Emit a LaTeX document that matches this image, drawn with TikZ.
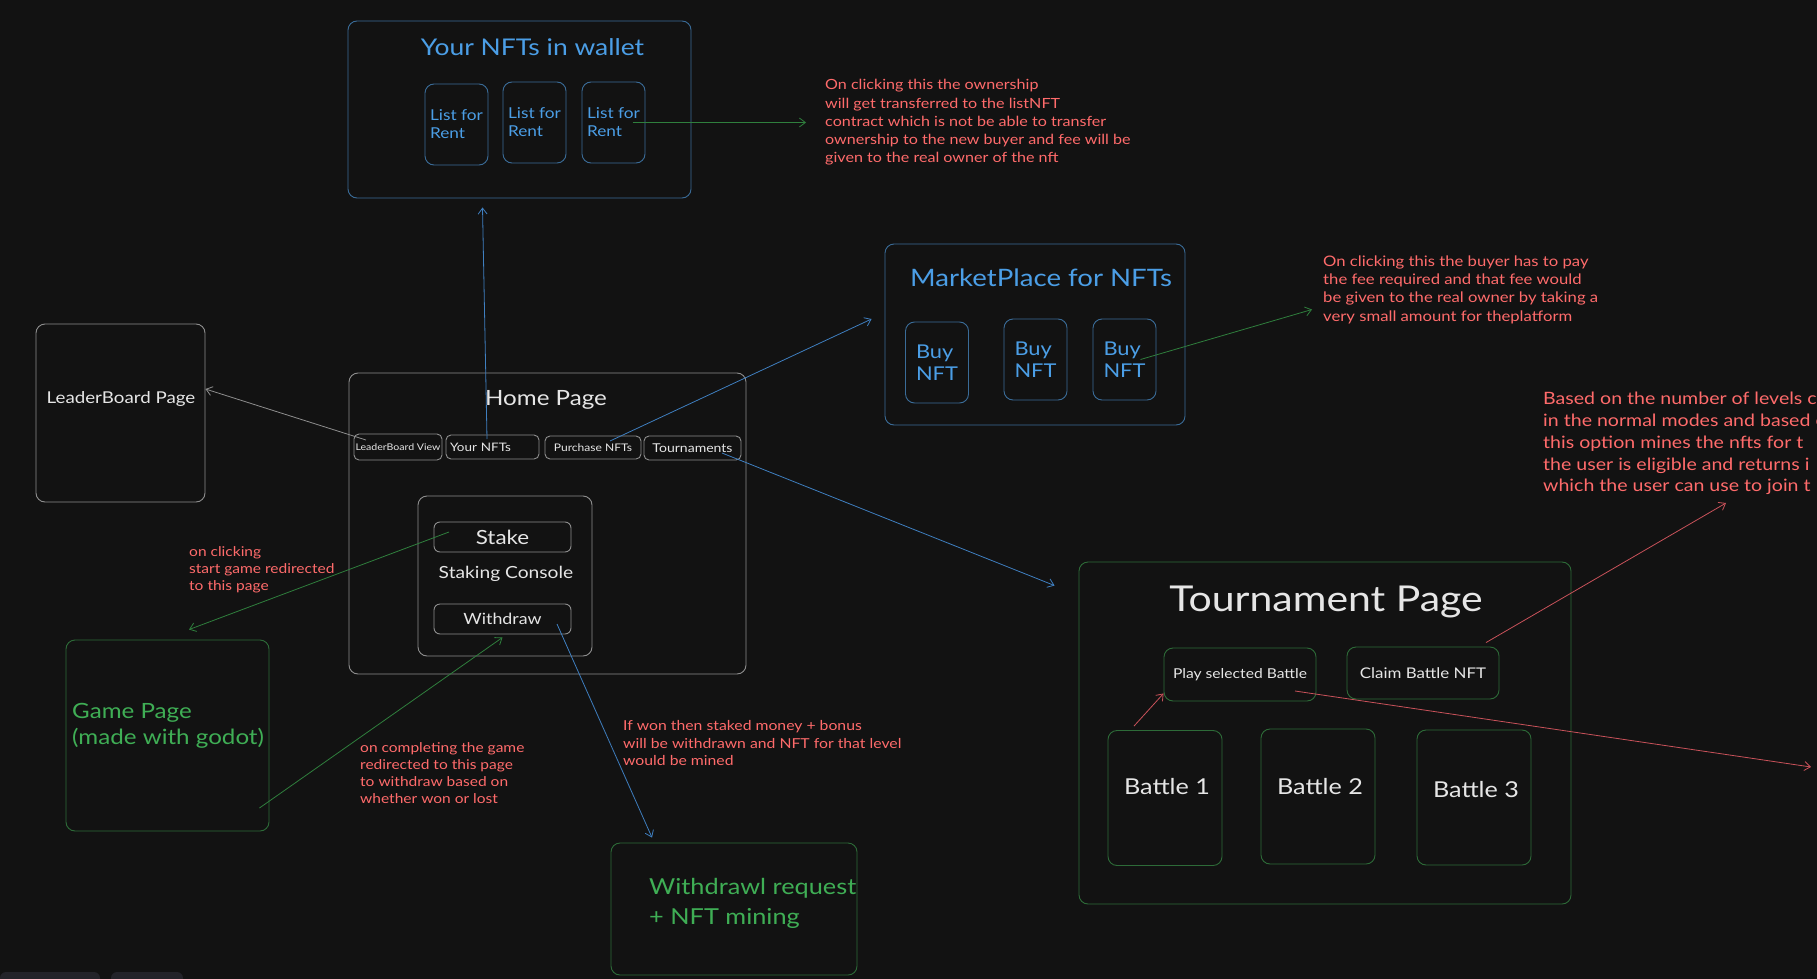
\documentclass[tikz,border=0pt]{standalone}
\usepackage{fontspec}
\setmainfont{Lato}[FakeStretch=1.15]
\usetikzlibrary{arrows.meta, calc, positioning}
\definecolor{bgdark}{HTML}{121212}
\definecolor{dockgray}{HTML}{232329}
\definecolor{lngray}{HTML}{8E8E8E}
\definecolor{txtwhite}{HTML}{E6E6E6}
\definecolor{lnblue}{HTML}{3A6C98}
\definecolor{arblue}{HTML}{3F7FC0}
\definecolor{txtblue}{HTML}{4B9EE6}
\definecolor{lngreen}{HTML}{2D6B38}
\definecolor{argreen}{HTML}{2F7F3D}
\definecolor{txtgreen}{HTML}{3FAE55}
\definecolor{notered}{HTML}{FF6B6B}
\definecolor{arred}{HTML}{C9525A}

\begin{document}
\begin{tikzpicture}[x=1pt, y=-1pt,
    >={Straight Barb[length=6pt,width=9pt]},
    box/.style={draw=#1, rounded corners=9pt, line width=0.9pt, inner sep=0pt},
    ttl/.style={text=#1, inner sep=0pt},
    note/.style={text=notered, align=left, anchor=west, inner sep=0pt, font=\fontsize{14}{18.3}\selectfont},
    link/.style={->, draw=#1, line width=0.8pt}]
    \fill[bgdark] (0,0) rectangle (1817,979);
    \useasboundingbox (0,0) rectangle (1817,979);
    \clip (0,0) rectangle (1817,979);
    \fill[dockgray, rounded corners=6pt] (0,972) rectangle (100,995);
    \fill[dockgray, rounded corners=6pt] (111,972) rectangle (183,995);

    % wallet
    \node[box=lnblue, minimum width=343pt, minimum height=177pt] (wallet) at (519.5,109.5) {};
    \node[ttl=txtblue, font=\fontsize{23}{27}\selectfont] (walletttl) at (532.5,47) {Your NFTs in wallet};
    \foreach \i/\x/\y in {1/456.5/124.5, 2/534.5/122.5, 3/613.5/122.5} {
        \node[box=lnblue, text=txtblue, minimum width=63pt, minimum height=81pt, align=left, font=\fontsize{15}{18}\selectfont] (w\i) at (\x,\y) {List for\\Rent};
    }
    \node[note] (note1) at (825,122.5) {On clicking this the ownership\\will get transferred to the listNFT\\contract which is not be able to transfer\\ownership to the new buyer and fee will be\\given to the real owner of the nft};

    % marketplace
    \node[box=lnblue, minimum width=300pt, minimum height=181pt] (market) at (1035,334.5) {};
    \node[ttl=txtblue, font=\fontsize{24}{28}\selectfont] (marketttl) at (1041,278) {MarketPlace for NFTs};
    \foreach \i/\x/\y in {1/937/362.5, 2/1035.5/359.5, 3/1124.5/359.5} {
        \node[box=lnblue, text=txtblue, minimum width=63pt, minimum height=81pt, align=left, font=\fontsize{19}{22}\selectfont] (b\i) at (\x,\y) {Buy\\NFT};
    }
    \node[note, font=\fontsize{14.5}{18.3}\selectfont] (note2) at (1323,289.5) {On clicking this the buyer has to pay\\the fee required and that fee would\\be given to the real owner by taking a\\very small amount for theplatform};
    \node[note, font=\fontsize{17}{21.8}\selectfont] (note3) at (1543,443.5) {Based on the number of levels c\\in the normal modes and based o\\this option mines the nfts for t\\the user is eligible and returns i\\which the user can use to join t};

    % leaderboard
    \node[box=lngray, minimum width=169pt, minimum height=178pt] (lb) at (120.5,413) {};
    \node[ttl=txtwhite, font=\fontsize{16.3}{20}\selectfont] (lbttl) at (121,399) {LeaderBoard Page};

    % home page
    \node[box=lngray, minimum width=397pt, minimum height=301pt] (home) at (547.5,523.5) {};
    \node[ttl=txtwhite, font=\fontsize{21}{25}\selectfont] (homettl) at (546,400) {Home Page};
    \node[box=lngray, rounded corners=5pt, text=txtwhite, minimum width=88pt, minimum height=26pt, font=\fontsize{9.2}{11}\selectfont] (lbv) at (398,447) {LeaderBoard View};
    \node[box=lngray, rounded corners=5pt, text=txtwhite, text width=85pt, inner sep=4pt, align=left, minimum height=24pt, font=\fontsize{11.7}{14}\selectfont] (ynft) at (492.5,447) {Your NFTs};
    \node[box=lngray, rounded corners=5pt, text=txtwhite, minimum width=96pt, minimum height=23pt, font=\fontsize{10.5}{13}\selectfont] (pnft) at (593,447.5) {Purchase NFTs};
    \node[box=lngray, rounded corners=5pt, text=txtwhite, minimum width=97pt, minimum height=24pt, font=\fontsize{12.2}{15}\selectfont] (tour) at (692.5,448) {Tournaments};

    \node[box=lngray, minimum width=174pt, minimum height=160pt] (staking) at (505,576) {};
    \node[ttl=txtwhite, font=\fontsize{16.7}{20}\selectfont] (stakingttl) at (506,574) {Staking Console};
    \node[box=lngray, rounded corners=6pt, text=txtwhite, minimum width=137pt, minimum height=30pt, font=\fontsize{19.5}{22}\selectfont] (stake) at (502.5,537) {Stake};
    \node[box=lngray, rounded corners=6pt, text=txtwhite, minimum width=137pt, minimum height=30pt, font=\fontsize{15.5}{18}\selectfont] (withdraw) at (502.5,619) {Withdraw};

    % game and withdrawal
    \node[box=lngreen, minimum width=203pt, minimum height=191pt] (game) at (167.5,735.5) {};
    \node[ttl=txtgreen, align=left, anchor=west, font=\fontsize{21}{26}\selectfont] (gamettl) at (72,726) {Game Page\\(made with godot)};
    \node[note, font=\fontsize{13.5}{17}\selectfont] (note4) at (189,570) {on clicking\\start game redirected\\to this page};
    \node[note, font=\fontsize{13.5}{17}\selectfont] (note5) at (360,773.5) {on completing the game\\redirected to this page\\to withdraw based on\\whether won or lost};

    \node[box=lngreen, minimum width=246pt, minimum height=132pt] (wdreq) at (734,909) {};
    \node[ttl=txtgreen, align=left, anchor=west, font=\fontsize{22}{30}\selectfont] (wdreqttl) at (649,903) {Withdrawl request\\+ NFT mining};
    \node[note, font=\fontsize{13.7}{17.5}\selectfont] (note6) at (623,743.5) {If won then staked money + bonus\\will be withdrawn and NFT for that level\\would be mined};

    % tournament
    \node[box=lngreen, minimum width=492pt, minimum height=342pt] (tpage) at (1325,733) {};
    \node[ttl=txtwhite, font=\fontsize{35.6}{40}\selectfont] (tpagettl) at (1326,602) {Tournament Page};
    \node[box=lngreen, text=txtwhite, minimum width=152pt, minimum height=53pt, font=\fontsize{13.6}{16}\selectfont] (play) at (1240,674.5) {Play selected Battle};
    \node[box=lngreen, text=txtwhite, minimum width=152pt, minimum height=52pt, font=\fontsize{14.7}{17}\selectfont] (claim) at (1423,673) {Claim Battle NFT};
    \foreach \i/\x/\y/\ty in {1/1165/798/-11, 2/1318/796.5/-9.5, 3/1474/797.5/-7.5} {
        \node[box=lngreen, minimum width=114pt, minimum height=135pt] (bt\i) at (\x,\y) {};
        \node[ttl=txtwhite, font=\fontsize{21.9}{25}\selectfont] (bt\i ttl) at ($(bt\i)+(2,\ty)$) {Battle \i};
    }
    \coordinate (offright) at (1811,767);

    % connectors
    \draw[link=argreen] ([xshift=19pt]w3.center) -- ([xshift=-19pt]note1.west);
    \draw[link=argreen] ([xshift=16pt]b3.center) -- ([shift={(-11pt,-20pt)}]note2.west);
    \draw[link=lngray] ([shift={(-32pt,7pt)}]lbv.center) -- ([yshift=24pt]lb.east);
    \draw[link=arblue] ([shift={(-5.5pt,8pt)}]ynft.center) -- ([shift={(-37pt,-9pt)}]wallet.south);
    \draw[link=arblue] ([shift={(17pt,6.5pt)}]pnft.center) -- ([shift={(-13pt,15.5pt)}]market.west);
    \draw[link=arblue] ([shift={(29.5pt,-5pt)}]tour.center) -- ([shift={(-24pt,-24pt)}]tpage.north west);
    \draw[link=argreen] ([shift={(-53.5pt,5pt)}]stake.center) -- ([shift={(21.5pt,10pt)}]game.north);
    \draw[link=argreen] ([shift={(-10pt,-72.5pt)}]game.east) -- ([yshift=-3pt]withdraw.south);
    \draw[link=arblue] ([shift={(54.5pt,-5pt)}]withdraw.center) -- ([shift={(-82pt,5pt)}]wdreq.north);
    \draw[link=arred] ([shift={(-31pt,4pt)}]bt1.north) -- ([yshift=8pt]play.south west);
    \draw[link=arred] ([shift={(55pt,-16.5pt)}]play.center) -- (offright);
    \draw[link=arred] ([shift={(63pt,4pt)}]claim.north) -- ([shift={(183pt,-59.5pt)}]note3.west);
\end{tikzpicture}
\end{document}
